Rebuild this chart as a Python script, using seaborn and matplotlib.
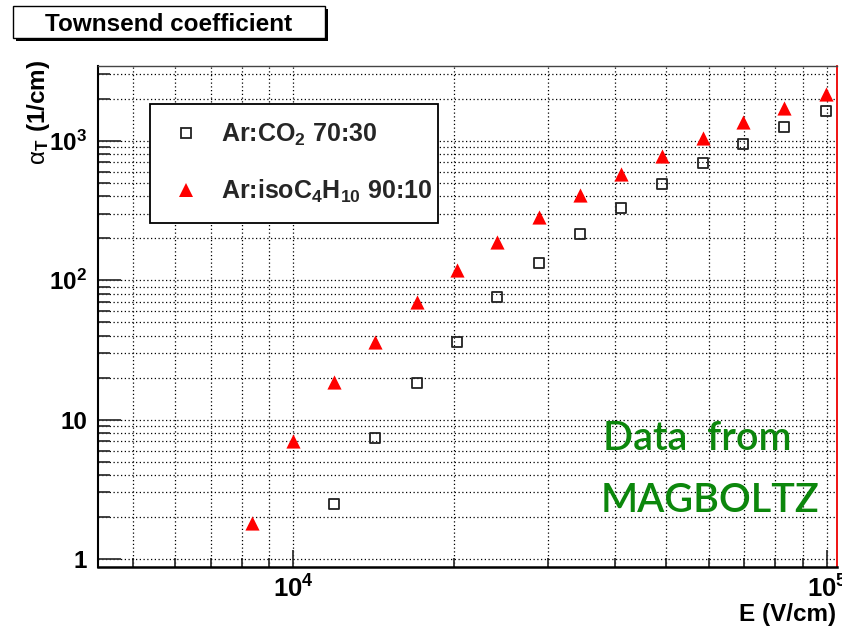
import numpy as np
import pandas as pd
import matplotlib
matplotlib.use("Agg")
import matplotlib.pyplot as plt
import seaborn as sns
from matplotlib.lines import Line2D
from matplotlib.patches import Rectangle
from matplotlib.ticker import FixedLocator, NullFormatter

# Townsend coefficient vs. electric field (MAGBOLTZ)
gas_labels = ["Ar:CO$_2$ 70:30", "Ar:isoC$_4$H$_{10}$ 90:10"]

field_ar_co2 = [11920, 14220, 17010, 20220, 24110, 28820, 34440,
                41110, 49060, 58420, 69660, 83060, 99300]
alpha_ar_co2 = [2.48, 7.38, 18.3, 36.0, 75.7, 133, 214,
                329, 489, 692, 947, 1254, 1634]

field_ar_iso = [8370, 10000, 11920, 14220, 17010, 20220, 24110, 28820,
                34440, 41110, 49060, 58420, 69660, 83060, 99300]
alpha_ar_iso = [1.82, 7.02, 18.6, 36.0, 69.7, 118, 188, 284,
                408, 577, 777, 1045, 1362, 1717, 2163]

x_major = [1e4, 1e5]
x_minor = [5e3, 6e3, 7e3, 8e3, 9e3, 2e4, 3e4, 4e4, 5e4, 6e4, 7e4, 8e4, 9e4]
x_ticklabels = [r"$\mathbf{10^{4}}$", r"$\mathbf{10^{5}}$"]
y_major = [1, 10, 100, 1000]
y_minor = [2, 3, 4, 5, 6, 7, 8, 9, 20, 30, 40, 50, 60, 70, 80, 90,
           200, 300, 400, 500, 600, 700, 800, 900, 2000, 3000]
y_ticklabels = ["1", "10", r"$\mathbf{10^{2}}$", r"$\mathbf{10^{3}}$"]

df = pd.concat([
    pd.DataFrame({"E": field_ar_co2, "alpha": alpha_ar_co2, "gas": gas_labels[0]}),
    pd.DataFrame({"E": field_ar_iso, "alpha": alpha_ar_iso, "gas": gas_labels[1]}),
], ignore_index=True)

sns.set_theme(style="white")
plt.rcParams["font.family"] = ["Liberation Sans", "DejaVu Sans"]
plt.rcParams["mathtext.fontset"] = "custom"
plt.rcParams["mathtext.rm"] = "Liberation Sans"
plt.rcParams["mathtext.bf"] = "Liberation Sans:bold"
plt.rcParams["mathtext.default"] = "bf"

W, H = 842, 627
fig = plt.figure(figsize=(W / 100, H / 100), dpi=100)
fig.patch.set_facecolor("white")

left, right, top, bottom = 97.7, 836.7, 65.7, 566.7
ax = fig.add_axes([left / W, 1 - bottom / H, (right - left) / W, (bottom - top) / H])
ax.set_facecolor("white")

sq_color = "#222222"
tri_color = "#ff0000"

sns.scatterplot(data=df[df["gas"] == gas_labels[0]], x="E", y="alpha",
                marker="s", s=52, facecolor="none", edgecolor=sq_color,
                linewidth=1.3, ax=ax, legend=False, zorder=3)
sns.scatterplot(data=df[df["gas"] == gas_labels[1]], x="E", y="alpha",
                marker="^", s=104, color=tri_color, linewidth=0,
                ax=ax, legend=False, zorder=3)

ax.set_xscale("log")
ax.set_yscale("log")
ax.set_xlim(4300, 1.042e5)
ax.set_ylim(0.881, 3450)

ax.xaxis.set_major_locator(FixedLocator(x_major))
ax.xaxis.set_minor_locator(FixedLocator(x_minor))
ax.xaxis.set_minor_formatter(NullFormatter())
ax.set_xticklabels(x_ticklabels)
ax.yaxis.set_major_locator(FixedLocator(y_major))
ax.yaxis.set_minor_locator(FixedLocator(y_minor))
ax.yaxis.set_minor_formatter(NullFormatter())
ax.set_yticklabels(y_ticklabels)

for lab in ax.get_yticklabels():
    lab.set_fontweight("bold")
    lab.set_fontsize(17.5)
    lab.set_color("black")
for lab in ax.get_xticklabels():
    lab.set_fontweight("bold")
    lab.set_fontsize(18.5)
    lab.set_color("black")

ax.set_xlabel("")
ax.set_ylabel("")

ax.grid(which="both", axis="both", color="black", linestyle=(0, (1, 2)),
        linewidth=0.9)
ax.set_axisbelow(True)

ax.tick_params(axis="y", which="major", direction="in", length=16.5, width=1.3,
               color="#333333", pad=7.5, left=True, right=False)
ax.tick_params(axis="y", which="minor", direction="in", length=8.4, width=1.3,
               color="#333333", left=True, right=False)
ax.tick_params(axis="x", which="major", direction="in", length=12.2, width=1.3,
               color="#333333", pad=6.5, bottom=True, top=False)
ax.tick_params(axis="x", which="minor", direction="in", length=6.2, width=1.3,
               color="#333333", bottom=True, top=False)

ax.spines["left"].set_color("black")
ax.spines["left"].set_linewidth(1.5)
ax.spines["bottom"].set_color("black")
ax.spines["bottom"].set_linewidth(1.8)
ax.spines["top"].set_color("#444444")
ax.spines["top"].set_linewidth(1.0)
ax.spines["right"].set_color("#ee0000")
ax.spines["right"].set_linewidth(1.3)

# Legend
handles = [
    Line2D([], [], linestyle="none", marker="s", markersize=np.sqrt(52),
           markerfacecolor="none", markeredgecolor=sq_color, markeredgewidth=1.3),
    Line2D([], [], linestyle="none", marker="^", markersize=np.sqrt(104),
           color=tri_color, markeredgewidth=0),
]
lx0, ly0, lx1, ly1 = 150, 104.3, 437.7, 222.3
leg = ax.legend(handles, gas_labels, loc="upper left",
                bbox_to_anchor=(lx0 / W, 1 - ly1 / H, (lx1 - lx0) / W, (ly1 - ly0) / H),
                bbox_transform=fig.transFigure, mode="expand", borderaxespad=0,
                frameon=True, fancybox=False, shadow=False, framealpha=1,
                edgecolor="black", facecolor="white",
                prop={"weight": "bold", "size": 18},
                borderpad=0.7, labelspacing=1.2, handlelength=1.45,
                handletextpad=0.7)
leg.get_frame().set_linewidth(1.3)

# Axis titles
fig.text(39 / W, 1 - 60 / H, r"$\mathrm{\alpha}_{\mathbf{T}}\ \mathbf{(1/cm)}$",
         rotation=90, ha="center", va="top", fontsize=17.5, color="black")
fig.text(836 / W, 1 - 621 / H, "E (V/cm)", ha="right", va="baseline",
         fontsize=17.5, fontweight="bold", color="black")

# Annotation
green = "#0c870c"
fig.text(603 / W, 1 - 450 / H, "Data  from", ha="left", va="baseline",
         fontsize=28.5, fontweight="semibold", family=["Lato", "DejaVu Sans"],
         color=green)
fig.text(601 / W, 1 - 511.7 / H, "MAGBOLTZ", ha="left", va="baseline",
         fontsize=28.5, fontweight="semibold", family=["Lato", "DejaVu Sans"],
         color=green)

# Title box with drop shadow
tx0, ty0, tx1, ty1 = 13, 5.7, 325, 38.3
fig.add_artist(Rectangle(((tx0 + 3) / W, 1 - (ty1 + 3) / H), (tx1 - tx0) / W,
                         (ty1 - ty0) / H, transform=fig.transFigure,
                         facecolor="black", edgecolor="none", zorder=5))
fig.add_artist(Rectangle((tx0 / W, 1 - ty1 / H), (tx1 - tx0) / W,
                         (ty1 - ty0) / H, transform=fig.transFigure,
                         facecolor="white", edgecolor="black", linewidth=1.0,
                         zorder=6))
fig.text((tx0 + tx1) / 2 / W, 1 - (ty0 + ty1) / 2 / H, "Townsend coefficient",
         ha="center", va="center_baseline", fontsize=17.5, fontweight="bold",
         color="black", zorder=7)

fig.savefig("out.png", dpi=100)
